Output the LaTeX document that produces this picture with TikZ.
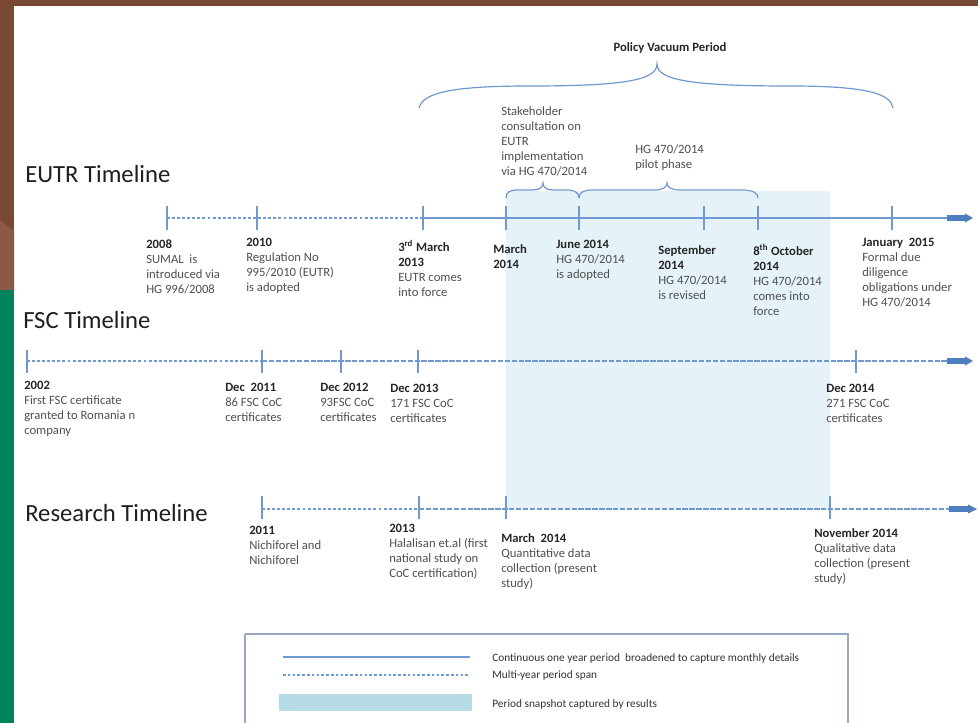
\documentclass[tikz,border=0pt]{standalone}
\usepackage{fontspec}
\setmainfont{Carlito}
\definecolor{tlblue}{HTML}{7099CF}
\definecolor{arrblue}{HTML}{4F7EC0}
\definecolor{snapblue}{HTML}{E5F2F8}
\definecolor{legshade}{HTML}{B5DCE6}
\definecolor{legbord}{HTML}{95A9C2}
\definecolor{brownfr}{HTML}{7A4934}
\definecolor{brownlt}{HTML}{8C5A44}
\definecolor{greenfr}{HTML}{00835C}
\definecolor{txtgray}{HTML}{505050}
\definecolor{hdcol}{HTML}{262626}
\newcommand\tlhead[1]{{\bfseries\color{hdcol}#1}}
\begin{document}
\begin{tikzpicture}[x=0.75pt,y=-0.75pt,
  solidln/.style={draw=tlblue, line width=1.1pt},
  shortdash/.style={draw=tlblue, line width=1.1pt, dash pattern=on 2.2pt off 1.6pt},
  longdash/.style={draw=tlblue, line width=1.1pt, dash pattern=on 4pt off 1.2pt},
  tickln/.style={draw=tlblue, line width=1.1pt},
  brc/.style={draw=tlblue, line width=0.9pt},
  lbl/.style={anchor=north west, inner sep=0pt, align=left, font=\fontsize{9.5}{11.25}\selectfont, text=txtgray},
  ttl/.style={anchor=west, inner sep=0pt, font=\fontsize{18.5}{22}\selectfont, text=black!88},
  legtxt/.style={anchor=west, inner sep=0pt, font=\fontsize{8.5}{10}\selectfont, text=black!80},
  arrowbar/.style={fill=arrblue},
]
\useasboundingbox (0,0) rectangle (978,723);
% frame
\fill[brownfr] (0,0) rectangle (978,723);
\fill[white] (14,6) rectangle (978,723);
\fill[brownlt] (0,220) -- (14,231) -- (14,290) -- (0,290) -- cycle;
\fill[greenfr] (0,290) rectangle (14,723);

% shaded snapshot period
\fill[snapblue] (506,191) rectangle (830,509);

% coordinates
\coordinate (e08) at (167,218);
\coordinate (e10) at (257,218);
\coordinate (e13) at (423,218);
\coordinate (e14m) at (506,218);
\coordinate (e14j) at (579,218);
\coordinate (e14s) at (704,218);
\coordinate (e14o) at (758,218);
\coordinate (e15) at (892,218);
\coordinate (eend) at (947,218);

\coordinate (f02) at (27,361);
\coordinate (f11) at (262,361);
\coordinate (f12) at (341,361);
\coordinate (f13) at (418,361);
\coordinate (f14) at (856,361);
\coordinate (fend) at (947,361);

\coordinate (r11) at (262,509);
\coordinate (r13) at (419,509);
\coordinate (r14m) at (506,509);
\coordinate (r14n) at (830,509);
\coordinate (rend) at (949,509);

% titles
\node[ttl] (tEUTR) at (25,174) {EUTR Timeline};
\node[ttl] (tFSC) at (23,320) {FSC Timeline};
\node[ttl] (tRES) at (25,513) {Research Timeline};

% EUTR line
\draw[shortdash] (e08) -- (e13);
\draw[solidln] (e13) -- (eend);
\fill[arrowbar] (eend) ++(0,-2.8) -- ++(18,0) -- ++(0,-1.8) -- ++(8,4.6) -- ++(-8,4.6) -- ++(0,-1.8) -- ++(-18,0) -- cycle;
\foreach \c in {e08,e10,e13,e14m,e14j,e14s,e14o,e15}
  \draw[tickln] (\c) ++(0,-12) -- ++(0,24);

% FSC line
\draw[shortdash] (f02) -- (f11);
\draw[longdash] (f11) -- (fend);
\fill[arrowbar] (fend) ++(0,-2.8) -- ++(18,0) -- ++(0,-1.8) -- ++(8,4.6) -- ++(-8,4.6) -- ++(0,-1.8) -- ++(-18,0) -- cycle;
\foreach \c in {f02,f11,f12,f13,f14}
  \draw[tickln] (\c) ++(0,-11) -- ++(0,23);

% Research line
\draw[shortdash] (r11) -- (r13);
\draw[longdash] (r13) -- (rend);
\fill[arrowbar] (rend) ++(0,-2.8) -- ++(19,0) -- ++(0,-1.8) -- ++(9,4.6) -- ++(-9,4.6) -- ++(0,-1.8) -- ++(-19,0) -- cycle;
\foreach \c in {r11,r13,r14m,r14n}
  \draw[tickln] (\c) ++(0,-13) -- ++(0,23);

% policy vacuum brace
\coordinate (pvl) at (419,108);
\coordinate (pvt) at (657,64);
\coordinate (pvr) at (893,108);
\draw[brc] (pvl) .. controls (423,92) and (455,86) .. (530,86)
  .. controls (625,86) and (657,80) .. (pvt)
  .. controls (657,80) and (690,86) .. (790,86)
  .. controls (868,86) and (891,94) .. (pvr);
\node[anchor=center, inner sep=0pt, font=\fontsize{9.5}{11}\selectfont\bfseries, text=hdcol] (pvlab) at (670,48) {Policy Vacuum Period};

% sub braces
\coordinate (b1l) at (506,198);
\coordinate (b1t) at (543,183);
\coordinate (b1r) at (579,198);
\coordinate (b2t) at (667,183);
\coordinate (b2r) at (758,198);
\draw[brc] (b1l) .. controls (506,192) and (510,190) .. (518,190) -- (533,190)
  .. controls (540,190) and (543,187) .. (b1t)
  .. controls (543,187) and (546,190) .. (553,190) -- (567,190)
  .. controls (575,190) and (579,193) .. (b1r);
\draw[brc] (b1r) .. controls (579,193) and (583,190) .. (592,190) -- (655,190)
  .. controls (663,190) and (667,187) .. (b2t)
  .. controls (667,187) and (671,190) .. (680,190) -- (742,190)
  .. controls (753,190) and (758,193) .. (b2r);

\node[lbl] (stake) at (501,106) {Stakeholder\\consultation on\\EUTR\\implementation\\via HG 470/2014};
\node[lbl] (pilot) at (635,144) {HG 470/2014\\pilot phase};

% EUTR labels
\node[lbl] (l2008) at (146,239) {\tlhead{2008}\\SUMAL\ \ is\\introduced via\\HG 996/2008};
\node[lbl] (l2010) at (246,238) {\tlhead{2010}\\Regulation No\\995/2010 (EUTR)\\is adopted};
\node[lbl] (l2013) at (398,240) {\tlhead{3\textsuperscript{rd} March}\\\tlhead{2013}\\EUTR comes\\into force};
\node[lbl] (l2014m) at (493,244) {\tlhead{March}\\\tlhead{2014}};
\node[lbl] (l2014j) at (556,240) {\tlhead{June 2014}\\HG 470/2014\\is adopted};
\node[lbl] (l2014s) at (658,245) {\tlhead{September}\\\tlhead{2014}\\HG 470/2014\\is revised};
\node[lbl] (l2014o) at (753,244) {\tlhead{8\textsuperscript{th} October}\\\tlhead{2014}\\HG 470/2014\\comes into\\force};
\node[lbl] (l2015) at (862,238) {\tlhead{January\ \ 2015}\\Formal due\\diligence\\obligations under\\HG 470/2014};

% FSC labels
\node[lbl] (f2002) at (24,381) {\tlhead{2002}\\First FSC certificate\\granted to Romania n\\company};
\node[lbl] (f2011) at (225,383) {\tlhead{Dec\ \ 2011}\\86 FSC CoC\\certificates};
\node[lbl] (f2012) at (320,383) {\tlhead{Dec 2012}\\93FSC CoC\\certificates};
\node[lbl] (f2013) at (390,384) {\tlhead{Dec 2013}\\171 FSC CoC\\certificates};
\node[lbl] (f2014) at (826,384) {\tlhead{Dec 2014}\\271 FSC CoC\\certificates};

% Research labels
\node[lbl] (r2011) at (249,526) {\tlhead{2011}\\Nichiforel and\\Nichiforel};
\node[lbl] (r2013) at (389,524) {\tlhead{2013}\\Halalisan et.al (first\\national study on\\CoC certification)};
\node[lbl] (r2014m) at (501,533) {\tlhead{March\ \ 2014}\\Quantitative data\\collection (present\\study)};
\node[lbl] (r2014n) at (814,528) {\tlhead{November 2014}\\Qualitative data\\collection (present\\study)};

% legend
\draw[draw=legbord, line width=1.1pt] (245,634) -- (848,634) -- (848,730) (245,634) -- (245,730);
\coordinate (lg1a) at (283,657);
\coordinate (lg1b) at (470,657);
\coordinate (lg2a) at (283,675);
\coordinate (lg2b) at (470,675);
\draw[draw=tlblue, line width=1pt] (lg1a) -- (lg1b);
\draw[draw=tlblue, line width=1pt, dash pattern=on 2pt off 1.6pt] (lg2a) -- (lg2b);
\fill[legshade] (279,694) rectangle (472,711);
\node[legtxt] (lt1) at (492,658) {Continuous one year period\ \ broadened to capture monthly details};
\node[legtxt] (lt2) at (492,675) {Multi-year period span};
\node[legtxt] (lt3) at (492,704) {Period snapshot captured by results};
\end{tikzpicture}
\end{document}
